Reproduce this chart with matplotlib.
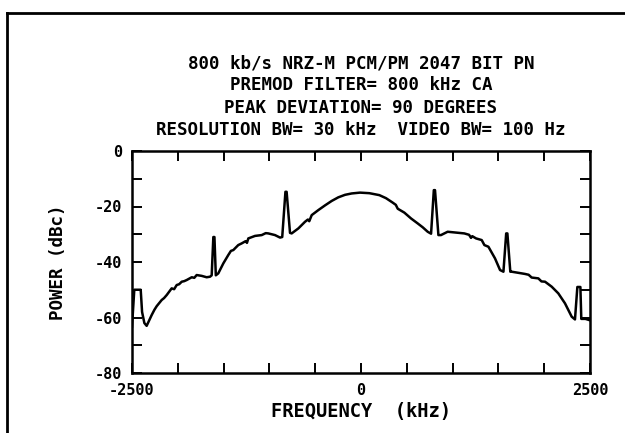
import numpy as np
import matplotlib
matplotlib.use("Agg")
import matplotlib.pyplot as plt
from matplotlib.lines import Line2D

plt.rcParams['font.family'] = ['DejaVu Sans Mono', 'DejaVu Sans']

# spectrum trace (kHz, dBc)
freq_khz = [-2500, -2490, -2475, -2405, -2390, -2365, -2340, -2285, -2255, -2230,
            -2176, -2150, -2121, -2067, -2040, -2012, -1985, -1957, -1930, -1903,
            -1848, -1820, -1794, -1739, -1685, -1648, -1630, -1612, -1600, -1585,
            -1558, -1503, -1449, -1420, -1394, -1340, -1303, -1260, -1245, -1230,
            -1157, -1084, -1040, -1012, -939, -884, -860, -825, -812, -775,
            -757, -684, -611, -580, -565, -538, -466, -393, -320, -248,
            -175, -102, -11, 91, 200, 273, 346, 380, 401, 473,
            546, 619, 674, 728, 765, 795, 808, 845, 873, 946,
            1037, 1128, 1180, 1201, 1215, 1256, 1318, 1347, 1391, 1463,
            1518, 1555, 1585, 1598, 1630, 1645, 1718, 1790, 1830, 1863,
            1936, 1970, 2009, 2082, 2154, 2227, 2300, 2336, 2362, 2395,
            2405, 2450, 2500]
power_dbc = [-63.3, -58, -50, -50, -58, -62, -63, -59.1, -57.2, -55.9,
             -53.7, -53.0, -51.9, -49.5, -49.8, -48.3, -48.0, -47.1, -46.9, -46.5,
             -45.5, -45.7, -44.7, -45, -45.5, -45.3, -44.8, -31, -31, -44.8,
             -44.1, -40.5, -37.5, -36.0, -35.7, -33.9, -33.3, -32.5, -33.1, -31.5,
             -30.6, -30.3, -29.6, -29.7, -30.3, -31.2, -31, -14.7, -14.7, -29.5,
             -29.7, -27.9, -25.5, -24.7, -25.3, -23.1, -21.3, -19.6, -18.0, -16.7,
             -15.8, -15.3, -15, -15.2, -15.9, -17.0, -18.6, -19.4, -20.8, -22.2,
             -24.3, -26.1, -27.5, -29.1, -29.8, -14.1, -14.1, -30.3, -30.3, -29.1,
             -29.4, -29.7, -30.2, -31.3, -30.7, -31.5, -32.1, -33.9, -34.5, -38.7,
             -42.9, -43.5, -29.7, -29.7, -43.5, -43.5, -43.9, -44.3, -44.6, -45.6,
             -45.9, -47.0, -47.1, -48.9, -51.3, -54.9, -59.7, -60.7, -49, -49,
             -60.5, -60.5, -61]

title_lines = ["800 kb/s NRZ-M PCM/PM 2047 BIT PN",
               "PREMOD FILTER= 800 kHz CA",
               "PEAK DEVIATION= 90 DEGREES",
               "RESOLUTION BW= 30 kHz  VIDEO BW= 100 Hz"]
x_ticks = [-2500, -2000, -1500, -1000, -500, 0, 500, 1000, 1500, 2000, 2500]
x_tick_labels = ["-2500", "", "", "", "", "0", "", "", "", "", "2500"]
y_ticks = [0, -10, -20, -30, -40, -50, -60, -70, -80]
y_tick_labels = ["0", "", "-20", "", "-40", "", "-60", "", "-80"]

W, H = 625, 433
fig = plt.figure(figsize=(W / 100, H / 100), dpi=100)
ax = fig.add_axes([132 / W, 1 - 373 / H, 458 / W, 222 / H])

ax.plot(freq_khz, power_dbc, color='black', lw=1.8, solid_joinstyle='round')
ax.set_xlim(-2500, 2500)
ax.set_ylim(-80, 0)

ax.set_xticks(x_ticks)
ax.set_xticklabels(x_tick_labels)
ax.set_yticks(y_ticks)
ax.set_yticklabels(y_tick_labels)
ax.tick_params(direction='in', top=True, right=True, length=7, width=1.4,
               labelsize=11, pad=7)
for lab in ax.get_xticklabels() + ax.get_yticklabels():
    lab.set_fontweight('bold')
for sp in ax.spines.values():
    sp.set_linewidth(1.8)

ax.set_xlabel("FREQUENCY  (kHz)", fontsize=13.5, fontweight='bold', labelpad=3)
ax.set_ylabel("POWER (dBc)", fontsize=12.6, fontweight='bold', labelpad=20)

# title block, one line per row
for i, line in enumerate(title_lines):
    fig.text(361 / W, 1 - (63 + 22.3 * i) / H, line, ha='center', va='center',
             fontsize=12.6, fontweight='bold')

# scanned page border (left and top edges)
fy = 1 - 13 / H
fx = 7 / W
fig.add_artist(Line2D([fx, fx], [0, fy], transform=fig.transFigure, color='black', lw=2))
fig.add_artist(Line2D([fx, 1], [fy, fy], transform=fig.transFigure, color='black', lw=2))

fig.savefig("out.png", dpi=100)
